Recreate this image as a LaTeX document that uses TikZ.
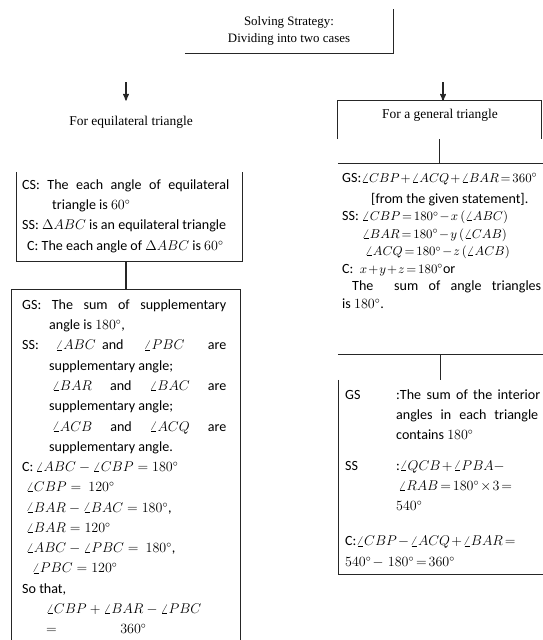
\documentclass[tikz,border=0pt]{standalone}
\usepackage{amsmath}
\usepackage{fontspec}
\setmainfont{Carlito}
\newfontfamily\hdrfont{Liberation Serif}
\usetikzlibrary{arrows}
\usetikzlibrary{positioning}
\newcommand{\jline}[2]{\makebox[#1][s]{#2}}
\newcommand{\tightmath}{\medmuskip=1.5mu\thickmuskip=2.5mu}
\newcommand{\rmath}[1]{{\fontsize{11}{14}\selectfont$#1$}}
\tikzset{
    panel/.style={rectangle, inner sep=0pt},
    hdr/.style={font=\hdrfont\fontsize{11.5}{14.5}\selectfont, align=center, inner sep=0pt},
    body/.style={font=\fontsize{12}{17.3}\selectfont, align=left, anchor=north west, inner sep=0pt},
    boxline/.style={line width=1.1pt, draw=black!85},
    joinline/.style={line width=1.1pt, draw=black!85}
}
\begin{document}
\begin{tikzpicture}[x=0.03cm, y=-0.03cm, >=stealth']
        \useasboundingbox (0,0) rectangle (543,640);

        % Strategy box at the top
        \node (strategy) [panel, hdr, font=\hdrfont\fontsize{11}{14.5}\selectfont, minimum width=6.24cm, minimum height=1.32cm] at (289,31) {Solving Strategy:\\Dividing into two cases};
        \coordinate (lsplit) at (126,82);
        \coordinate (rsplit) at (443,82);

        % Left case: equilateral triangle
        \node (equi) [hdr, inner ysep=0.45cm] at (131,122) {For equilateral triangle};
        \node (csbox) [panel, minimum width=6.75cm, minimum height=2.67cm] at (129.5,216.5) {};
        \node (gsleft) [panel, minimum width=6.84cm, minimum height=10.5cm] at (126,465) {};

        \node (cstext) [body] at (22,175) {\strut\jline{6.21cm}{CS: The each angle of equilateral}\\
            \hspace*{0.9cm}triangle is $60^\circ$\\
            SS:\ $\Delta ABC$ is an equilateral triangle\\
            \hspace*{0.15cm}C: The each angle of $\Delta ABC$ is $60^\circ$};

        \node (gslefttext) [body] at (22,295) {\strut\jline{6.12cm}{GS: The sum of supplementary}\\
            \hspace*{0.81cm}angle is $180^\circ$,\\
            \makebox[6.12cm][l]{SS:\hspace{0.5cm}$\angle ABC$\ \ and\hfill$\angle PBC$\hspace{0.7cm}are}\\
            \hspace*{0.81cm}supplementary angle;\\
            \hspace*{0.9cm}\jline{5.22cm}{$\angle BAR$ and $\angle BAC$ are}\\
            \hspace*{0.81cm}supplementary angle;\\
            \hspace*{0.9cm}\jline{5.22cm}{$\angle ACB$ and $\angle ACQ$ are}\\
            \hspace*{0.81cm}supplementary angle.\\
            C:\,$\angle ABC - \angle CBP = 180^\circ$\\
            \hspace*{0.12cm}$\angle CBP = \ 120^\circ$\\
            \hspace*{0.12cm}$\angle BAR - \angle BAC = 180^\circ$,\\
            \hspace*{0.12cm}$\angle BAR = 120^\circ$\\
            \hspace*{0.12cm}$\angle ABC - \angle PBC = \ 180^\circ$,\\
            \hspace*{0.3cm}$\angle PBC = 120^\circ$\\
            So that,\\
            \hspace*{0.72cm}$\angle CBP + \angle BAR - \angle PBC$\\
            \hspace*{0.72cm}$=$\hspace{1.9cm}$360^\circ$};

        % Right case: general triangle
        \node (general) [panel, minimum width=6.09cm, minimum height=1.14cm] at (439.5,120) {};
        \node (generaltext) [hdr] at (440,115) {For a general triangle};
        \node (gsright) [panel, minimum width=6.15cm, minimum height=5.7cm] at (440.5,259) {};
        \node (iobox) [panel, minimum width=6.12cm, minimum height=5.82cm] at (441,477) {};

        \node (gsrighttext) [body, font=\fontsize{12}{14.9}\selectfont\tightmath] at (342,170) {\strut GS:\rmath{\angle CBP + \angle ACQ + \angle BAR = 360^\circ}\\[3pt]
            \hspace*{0.87cm}[from the given statement].\\
            SS: \rmath{\angle CBP = 180^\circ - x\,(\angle ABC)}\\
            \hspace*{0.6cm}\rmath{\angle BAR = 180^\circ - y\,(\angle CAB)}\\
            \hspace*{0.69cm}\rmath{\angle ACQ = 180^\circ - z\,(\angle ACB)}\\
            C:\ \ \rmath{x + y + z = 180^\circ}or\\
            \hspace*{0.3cm}\jline{5.67cm}{The \ sum of angle triangles}\\
            is $180^\circ$.};

        \node (iotext) [body, font=\fontsize{12}{17.3}\selectfont\tightmath] at (345,385) {\strut\makebox[1.53cm][l]{GS}\jline{4.32cm}{:The sum of the interior}\\
            \hspace*{1.53cm}\jline{4.26cm}{angles in each triangle}\\
            \hspace*{1.53cm}contains $180^\circ$\\[8.5pt]
            \makebox[1.53cm][l]{SS}:$\angle QCB + \angle PBA -$\\
            \hspace*{1.6cm}$\angle RAB = 180^\circ\times 3 =$\\
            \hspace*{1.53cm}$540^\circ$\\[12.8pt]
            C:$\angle CBP - \angle ACQ + \angle BAR =$\\
            $540^\circ - \ 180^\circ = 360^\circ$};

        % Borders (only the visible sides)
        \draw[boxline] (strategy.south west) -- (strategy.south east) -- (strategy.north east);
        \draw[boxline] (csbox.north west) -- (csbox.south west) -- (csbox.south east) -- (csbox.north east);
        \draw[boxline] (gsleft.south west) -- (gsleft.north west) -- (gsleft.north east) -- (gsleft.south east);
        \draw[boxline] (general.south west) -- (general.north west) -- (general.north east) -- (general.south east);
        \draw[boxline] (gsright.north west) -- (gsright.north east);
        \draw[boxline] (gsright.south west) -- (gsright.south east);
        \draw[boxline] (iobox.north west) -- (iobox.south west) -- (iobox.south east);

        % Connectors
        \draw[joinline, ->] (lsplit) -- (lsplit |- equi.north);
        \draw[joinline, ->] (rsplit) -- (rsplit |- general.north);
        \draw[joinline] (gsleft.north |- csbox.south) -- (gsleft.north);
        \draw[joinline] (general.south) -- (general.south |- gsright.north);
        \draw[joinline] (gsright.south) -- (gsright.south |- iobox.north);
    \end{tikzpicture}
\end{document}
